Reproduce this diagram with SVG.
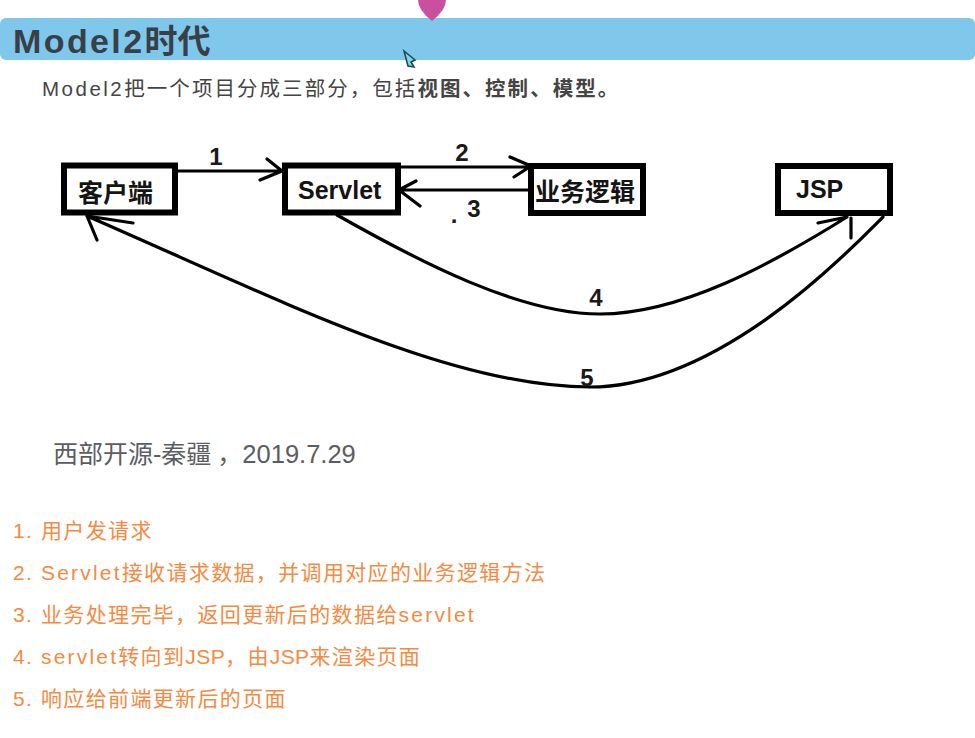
<svg xmlns="http://www.w3.org/2000/svg" width="975" height="738" viewBox="0 0 975 738">
<style>
text{font-family:"Liberation Sans","Noto Sans CJK SC",sans-serif}
.box{fill:#fff;stroke:#000;stroke-width:6}
.line{fill:none;stroke:#000;stroke-width:3.2;stroke-linecap:round;stroke-linejoin:round}
.lbl{font-size:24px;font-weight:700;fill:#1a1a1a;text-anchor:middle}
.nd{font-size:25px;font-weight:700;fill:#141414}
.li{font-size:21px;fill:#f58a42;letter-spacing:1.35px}
.lat{letter-spacing:2.2px}
.jsp{letter-spacing:.4px}
</style>
<rect x="0" y="18" width="975" height="42" rx="6" fill="#7fc8ec"/>
<path d="M418 0H446Q446 10 432 21Q418 10 418 0Z" fill="#c9509f"/>
<path d="M404 51L415 60L411 62L414 67L408 66Z" fill="#7fd8e4" stroke="#1f4a55" stroke-width="1.6"/>
<text x="13" y="53" font-size="33" font-weight="700" fill="#383f47"><tspan font-size="34" letter-spacing="2.4">Model2</tspan>时代</text>
<text x="42" y="96" font-size="20.5" fill="#444" letter-spacing="2.05"><tspan letter-spacing="2.5">Model2</tspan>把一个项目分成三部分，包括<tspan font-weight="700">视图、控制、模型。</tspan></text>
<g id="connectors">
<path class="line" d="M178 171H282M267 159L282 171L260 180"/>
<path class="line" d="M400 167H530M510 157L531 166L514 177"/>
<path class="line" d="M528 190H399M416 181L399 190L420 206"/>
<path class="line" d="M337 215C420 262 520 314 600 314C680 314 770 265 847 217M818 223L847 217M851 218V238"/>
<path class="line" d="M883 217C850 250 720 387 590 387C450 387 280 300 87 216M87 216L97 240M87 216L133 223"/>
</g>
<g id="node-client"><rect class="box" x="64" y="165.5" width="111" height="47"/><text class="nd" x="78" y="202" font-size="24">客户端</text></g>
<g id="node-servlet"><rect class="box" x="285" y="165.5" width="113" height="47"/><text class="nd" x="298" y="199">Servlet</text></g>
<g id="node-logic"><rect class="box" x="531" y="166" width="112" height="47"/><text class="nd" x="535" y="201" font-size="24">业务逻辑</text></g>
<g id="node-jsp"><rect class="box" x="778" y="166" width="112" height="47"/><text class="nd" x="796" y="198" font-size="24">JSP</text></g>
<text class="lbl" x="216" y="165">1</text>
<text class="lbl" x="462" y="161">2</text>
<text class="lbl" x="474" y="217">3</text>
<text class="lbl" x="454" y="223">.</text>
<text class="lbl" x="596" y="306">4</text>
<text class="lbl" x="587" y="386">5</text>
<text x="53" y="463" font-size="25" fill="#5a5d62">西部开源-秦疆<tspan dx="6">，</tspan><tspan font-size="25.5">2019.7.29</tspan></text>
<g id="list">
<text class="li" x="13" y="538">1.</text><text class="li" x="41" y="538">用户发请求</text>
<text class="li" x="13" y="580">2.</text><text class="li" x="41" y="580"><tspan class="lat">Servlet</tspan>接收请求数据，并调用对应的业务逻辑方法</text>
<text class="li" x="13" y="622">3.</text><text class="li" x="41" y="622">业务处理完毕，返回更新后的数据给<tspan class="lat">servlet</tspan></text>
<text class="li" x="13" y="664">4.</text><text class="li" x="41" y="664"><tspan class="lat">servlet</tspan>转向到<tspan class="jsp">JSP</tspan>，由<tspan class="jsp">JSP</tspan>来渲染页面</text>
<text class="li" x="13" y="706">5.</text><text class="li" x="41" y="706">响应给前端更新后的页面</text>
</g>
</svg>
